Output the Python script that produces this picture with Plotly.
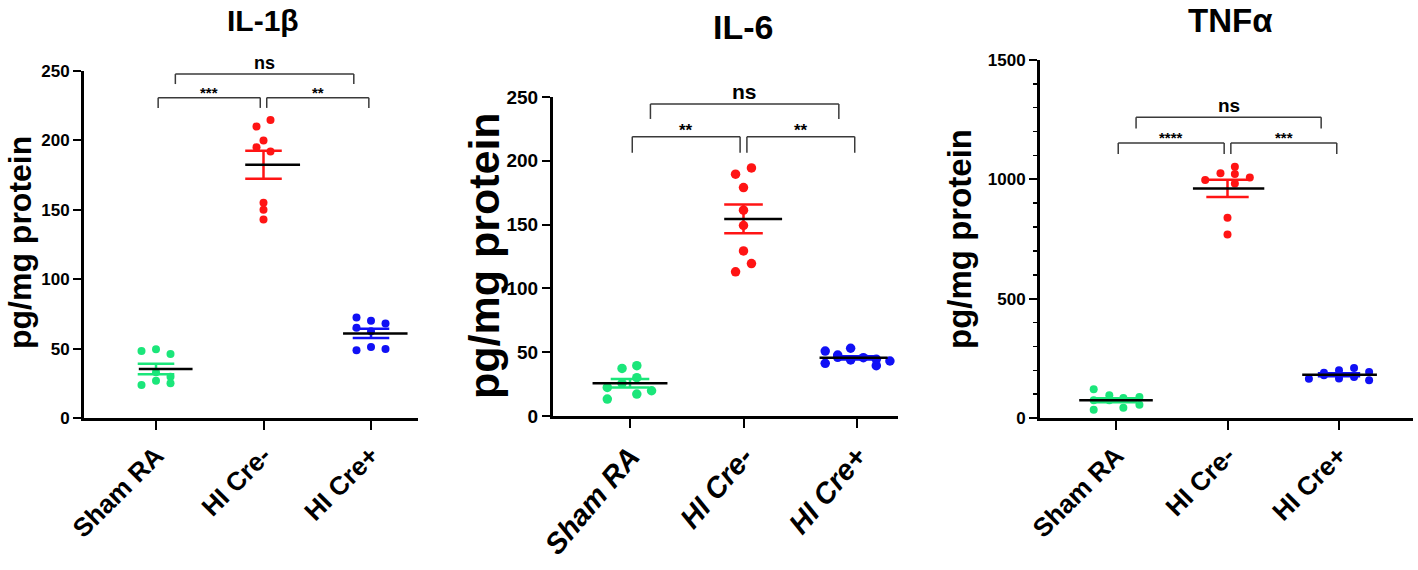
import numpy as np
import plotly.graph_objects as go

# ---------------- data ----------------
groups = ["Sham RA", "HI Cre-", "HI Cre+"]
titles = ["IL-1β", "IL-6", "TNFα"]
y_ticks_il1b = [0, 50, 100, 150, 200, 250]
y_ticks_il6 = [0, 50, 100, 150, 200, 250]
y_ticks_tnfa = [0, 500, 1000, 1500]

il1b_sham = [48.3, 49.5, 46.1, 32.9, 29.8, 23.8, 26.9, 25.0]
il1b_creneg = [210, 214.7, 200, 195, 192, 155, 150, 143]
il1b_crepos = [72.4, 70, 68, 65, 62.5, 48.8, 51.2, 49.8]

il6_sham = [37.3, 39.4, 22.4, 25.6, 30, 19.8, 17.2, 13.3]
il6_creneg = [189.5, 194.4, 179, 161.3, 149.3, 129.4, 119.5, 113]
il6_crepos = [50.9, 41.3, 47.8, 53.1, 43.9, 45.7, 39.4, 43.1, 46, 44.5]

tnfa_sham = [120, 95, 74, 84, 88, 35, 43, 56, 74]
tnfa_creneg = [997, 1025, 1053, 1022, 1008, 983, 839, 769]
tnfa_crepos = [164, 190, 200, 210, 193, 165, 172, 158, 179]

# significance labels: (left group, right group, label)
sig_il1b = [(0, 1, "***"), (1, 2, "**"), (0, 2, "ns")]
sig_il6 = [(0, 1, "**"), (1, 2, "**"), (0, 2, "ns")]
sig_tnfa = [(0, 1, "****"), (1, 2, "***"), (0, 2, "ns")]

# ---------------- styling / placement (not data) ----------------
# horizontal scatter offsets of points inside each group (category units)
il1b_off = [
    [-0.135, 0, 0.135, 0, 0.135, -0.135, 0, 0.135],
    [-0.065, 0.065, 0, -0.065, 0.065, 0, 0, 0],
    [-0.135, 0, 0.135, -0.135, 0, -0.135, 0, 0.135],
]
il6_off = [
    [-0.07, 0.06, -0.2, -0.07, 0.06, 0.19, 0.06, -0.2],
    [-0.07, 0.07, 0, 0, 0, 0, 0.07, -0.07],
    [-0.28, -0.28, -0.17, -0.056, -0.056, 0.056, 0.17, 0.29, -0.17, 0.17],
]
tnfa_off = [
    [-0.2, -0.06, -0.2, 0.066, 0.21, -0.2, 0.066, 0.21, -0.06],
    [-0.2, -0.063, 0.066, 0.066, 0.2, 0.066, 0, 0],
    [-0.27, -0.135, 0, 0.135, 0.27, 0, 0.135, 0.27, -0.135],
]

colors = ["#1BE67A", "#FF1414", "#1010F5"]
W, H = 1418, 570
FONT = "Liberation Sans, Arial, sans-serif"


def px_x(x):
    return x / W


def px_y(y):
    return 1 - y / H


panels = [
    dict(title=titles[0], data=[il1b_sham, il1b_creneg, il1b_crepos], off=il1b_off,
         yticks=y_ticks_il1b, sig=sig_il1b,
         xpx=(84, 418), ypx=(71, 418), tick0=156, tickstep=107.5,
         title_pos=(263, 20), title_size=30,
         ytitle_pos=(20, 243), ytitle_size=32,
         tickfs=17, xtickfs=26, xtickangle=-45, italic=False,
         msize=8, ns_size=18, star_size=15,
         br_low=(230.8, 223.4), br_up=(247.8, 240.6), minor=None,
         mean_w=[(-0.16, 0.34), (-0.17, 0.34), (-0.26, 0.34)], cap=0.17),
    dict(title=titles[1], data=[il6_sham, il6_creneg, il6_crepos], off=il6_off,
         yticks=y_ticks_il6, sig=sig_il6,
         xpx=(553, 898), ypx=(97, 416), tick0=630, tickstep=113.5,
         title_pos=(743, 27), title_size=34,
         ytitle_pos=(484, 256), ytitle_size=43,
         tickfs=19, xtickfs=29, xtickangle=-50, italic=True,
         msize=9.5, ns_size=21, star_size=17,
         br_low=(218.9, 206.3), br_up=(244.5, 232.8), minor=None,
         mean_w=[(-0.33, 0.33), (-0.17, 0.34), (-0.33, 0.27)], cap=0.17),
    dict(title=titles[2], data=[tnfa_sham, tnfa_creneg, tnfa_crepos], off=tnfa_off,
         yticks=y_ticks_tnfa, sig=sig_tnfa,
         xpx=(1040, 1413), ypx=(60, 418), tick0=1116, tickstep=111.5,
         title_pos=(1230, 20), title_size=33,
         ytitle_pos=(960, 239), ytitle_size=33,
         tickfs=17, xtickfs=26, xtickangle=-45, italic=False,
         msize=8, ns_size=19, star_size=15,
         br_low=(1152, 1106), br_up=(1260, 1213), minor=100,
         mean_w=[(-0.33, 0.33), (-0.31, 0.33), (-0.33, 0.34)], cap=0.19),
]

fig = go.Figure()
layout = dict(
    template="none",
    width=W, height=H, margin=dict(l=0, r=0, t=0, b=0, pad=0),
    paper_bgcolor="white", plot_bgcolor="white", showlegend=False,
    font=dict(family=FONT, color="black"),
)
shapes = []
annotations = []

for i, p in enumerate(panels):
    sfx = "" if i == 0 else str(i + 1)
    xa, ya = "x" + sfx, "y" + sfx
    ymax = p["yticks"][-1]
    x0px, x1px = p["xpx"]
    ytop, ybot = p["ypx"]
    xr = [(x0px - p["tick0"]) / p["tickstep"], (x1px - p["tick0"]) / p["tickstep"]]

    layout["xaxis" + sfx] = dict(
        domain=[px_x(x0px), px_x(x1px)], anchor=ya, range=xr, automargin=False,
        showgrid=False, zeroline=False, showline=True, linecolor="black", linewidth=3,
        ticks="outside", ticklen=9, tickwidth=2, tickcolor="black",
        tickvals=[0, 1, 2], ticktext=groups, tickangle=p["xtickangle"],
        tickfont=dict(family=FONT, size=p["xtickfs"], color="black", weight="bold",
                      style="italic" if p["italic"] else "normal"),
    )
    yax = dict(
        domain=[px_y(ybot), px_y(ytop)], anchor=xa, range=[0, ymax], automargin=False,
        showgrid=False, zeroline=False, showline=True, linecolor="black", linewidth=3,
        ticks="outside", ticklen=8, tickwidth=2, tickcolor="black",
        tickvals=p["yticks"],
        tickfont=dict(family=FONT, size=p["tickfs"], color="black", weight="bold"),
    )
    if p["minor"]:
        yax["minor"] = dict(dtick=p["minor"], ticks="outside", ticklen=4, tickwidth=1.5,
                            tickcolor="black")
    layout["yaxis" + sfx] = yax

    for g, (vals, offs) in enumerate(zip(p["data"], p["off"])):
        v = np.array(vals, dtype=float)
        m = v.mean()
        s = v.std(ddof=1) / np.sqrt(len(v))
        # points
        fig.add_trace(go.Scatter(
            x=[g + o for o in offs], y=vals, mode="markers", xaxis=xa, yaxis=ya,
            marker=dict(size=p["msize"], color=colors[g], line=dict(width=0)),
            hoverinfo="skip"))
        # SEM bars
        c = p["cap"]
        fig.add_trace(go.Scatter(
            x=[g, g, None, g - c, g + c, None, g - c, g + c],
            y=[m - s, m + s, None, m + s, m + s, None, m - s, m - s],
            mode="lines", xaxis=xa, yaxis=ya,
            line=dict(color=colors[g], width=2.5), hoverinfo="skip"))
        # mean line
        l, r = p["mean_w"][g]
        fig.add_trace(go.Scatter(
            x=[g + l, g + r], y=[m, m], mode="lines", xaxis=xa, yaxis=ya,
            line=dict(color="black", width=2.5), hoverinfo="skip"))

    # significance brackets
    ydom = ya + " domain"
    for (a, b, lab) in p["sig"]:
        if b - a == 2:
            top, leg = p["br_up"]
            xl, xrr = a + 0.18, b - 0.16
            fs = p["ns_size"]
        else:
            top, leg = p["br_low"]
            xl = a + (0.02 if a == 0 else 0.03)
            xrr = b - (0.02 if b == 2 else 0.03)
            fs = p["star_size"]
        ln = dict(color="#3a3a3a", width=1.5)
        for (xa0, ya0, xa1, ya1) in [(xl, leg, xl, top), (xl, top, xrr, top), (xrr, top, xrr, leg)]:
            shapes.append(dict(type="line", xref=xa, yref=ydom,
                               x0=xa0, x1=xa1, y0=ya0 / ymax, y1=ya1 / ymax, line=ln))
        annotations.append(dict(
            xref=xa, yref=ydom, x=(xl + xrr) / 2, y=top / ymax, text=lab,
            showarrow=False, xanchor="center", yanchor="bottom",
            yshift=-1 if lab == "ns" else -5,
            font=dict(family=FONT, size=fs, color="black", weight="bold")))

    # panel title
    tx, ty = p["title_pos"]
    annotations.append(dict(
        xref="paper", yref="paper", x=px_x(tx), y=px_y(ty), text=p["title"],
        showarrow=False, xanchor="center", yanchor="middle", borderpad=0,
        font=dict(family=FONT, size=p["title_size"], color="black", weight="bold")))
    # y-axis title
    yx, yy = p["ytitle_pos"]
    annotations.append(dict(
        xref="paper", yref="paper", x=px_x(yx), y=px_y(yy), text="pg/mg protein",
        textangle=-90, showarrow=False, xanchor="center", yanchor="middle", borderpad=0,
        font=dict(family=FONT, size=p["ytitle_size"], color="black", weight="bold")))

layout["shapes"] = shapes
layout["annotations"] = annotations
fig.update_layout(**layout)
fig.write_html("out.html", config={"displayModeBar": False, "staticPlot": True},
               post_script="document.body.style.margin='0px';")
